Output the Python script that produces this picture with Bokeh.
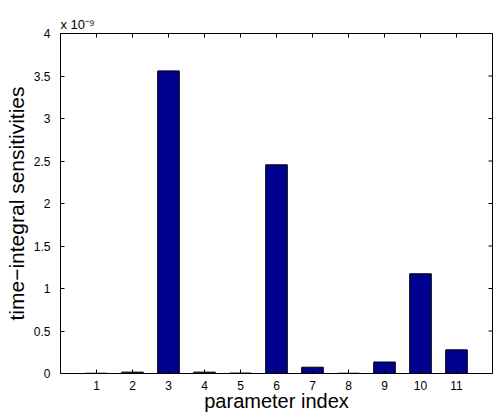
import math
from bokeh.plotting import figure
from bokeh.models import FixedTicker, Range1d
from bokeh.embed import file_html
from bokeh.resources import INLINE

# data (sensitivity values in units of 1e-9)
param_index = [1, 2, 3, 4, 5, 6, 7, 8, 9, 10, 11]
sensitivity_e9 = [0.003, 0.016, 3.56, 0.016, 0.005, 2.455, 0.074, 0.003, 0.135, 1.173, 0.278]
x_ticks = [1, 2, 3, 4, 5, 6, 7, 8, 9, 10, 11]
y_ticks = [0, 0.5, 1, 1.5, 2, 2.5, 3, 3.5, 4]
x_lim = [0, 12]
y_lim = [0, 4]

FONT = "Liberation Sans"

p = figure(width=495, height=414, output_backend="svg", toolbar_location=None,
           x_range=Range1d(*x_lim), y_range=Range1d(*y_lim),
           min_border_left=60, min_border_right=3, min_border_top=33, min_border_bottom=40)
p.background_fill_color = "white"
p.border_fill_color = "white"
p.outline_line_color = "black"
p.outline_line_width = 1
p.xgrid.visible = False
p.ygrid.visible = False

# scale factor shown above the plot, as MATLAB does
p.title.text = "x 10\u207b\u2079"
p.title.align = "left"
p.title.offset = 0
p.title.standoff = 4
p.title.text_font = FONT
p.title.text_font_size = "13px"
p.title.text_font_style = "normal"
p.title.text_color = "black"

p.vbar(x=param_index, top=sensitivity_e9, width=0.6, bottom=0,
       fill_color="#00008F", line_color="black", line_width=1)

# inward tick marks on top and right edges (outer half is clipped by the frame)
p.scatter(x=x_ticks, y=[y_lim[1]] * len(x_ticks), marker="dash", size=8, angle=math.pi / 2,
          line_color="black", line_width=1)
p.scatter(x=[x_lim[1]] * len(y_ticks), y=y_ticks, marker="dash", size=8, angle=0,
          line_color="black", line_width=1)

def style(ax, ticks):
    ax.ticker = FixedTicker(ticks=ticks)
    ax.major_tick_in = 4
    ax.major_tick_out = 0
    ax.major_tick_line_color = "black"
    ax.minor_tick_line_color = None
    ax.axis_line_color = "black"
    ax.major_label_text_font = FONT
    ax.major_label_text_color = "black"
    ax.major_label_text_font_size = "12px"
    ax.major_label_overrides = {t: f"{t:g}" for t in ticks}

xa = p.xaxis[0]
style(xa, x_ticks)
xa.major_label_standoff = 7
xa.axis_label = "parameter index"
xa.axis_label_text_font = FONT
xa.axis_label_text_font_size = "20px"
xa.axis_label_text_font_style = "normal"
xa.axis_label_text_color = "black"
try:
    xa.axis_label_standoff = -3
except Exception:
    xa.axis_label_standoff = 0

ya = p.yaxis[0]
style(ya, y_ticks)
ya.major_label_standoff = 10
ya.axis_label = "time\u2212integral sensitivities"
ya.axis_label_text_font = FONT
ya.axis_label_text_font_size = "21px"
ya.axis_label_text_font_style = "normal"
ya.axis_label_text_color = "black"
ya.axis_label_standoff = 3

open("out.html", "w").write(file_html(p, INLINE))
